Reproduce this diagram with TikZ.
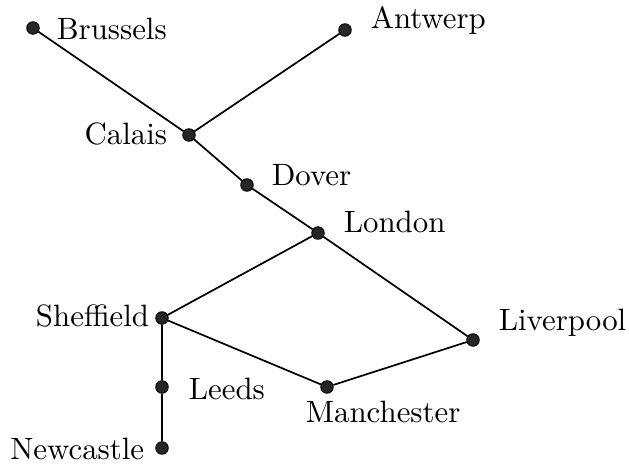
\documentclass[tikz,border=0pt]{standalone}
\usepackage{tikz}

\begin{document}
\begin{tikzpicture}[
    x = 0.35pt, y = -0.35pt,
    city/.style = {circle, fill = black!85, draw = black, line width = 0.3pt,
                   minimum size = 4.4pt, inner sep = 0pt},
    place/.style = {inner sep = 0pt, font = \fontsize{10.8}{13}\selectfont},
    every path/.style = {line width = 0.6pt}]

\useasboundingbox (0,0) rectangle (629,466);

\node[city] (bru) at (33,28) {};
\node[city] (ant) at (345,30) {};
\node[city] (cal) at (189,135) {};
\node[city] (dov) at (247,185) {};
\node[city] (lon) at (318,233) {};
\node[city] (she) at (162,318) {};
\node[city] (liv) at (473,340) {};
\node[city] (lee) at (162,387) {};
\node[city] (man) at (327,387) {};
\node[city] (new) at (162,448) {};

\draw (bru) -- (cal)
      (ant) -- (cal)
      (cal) -- (dov) -- (lon)
      (lon) -- (she)
      (lon) -- (liv)
      (she) -- (man) -- (liv)
      (she) -- (lee) -- (new);

\path (56,40) node[place, anchor = base west] (tbru) {Brussels}
      (370,29) node[place, anchor = base west] (tant) {Antwerp}
      (168,145) node[place, anchor = base east] (tcal) {Calais}
      (271,186) node[place, anchor = base west] (tdov) {Dover}
      (343,233) node[place, anchor = base west] (tlon) {London}
      (150,327) node[place, anchor = base east] (tshe) {Sheffield}
      (498,331) node[place, anchor = base west] (tliv) {Liverpool}
      (188,400) node[place, anchor = base west] (tlee) {Leeds}
      (305,422) node[place, anchor = base west] (tman) {Manchester}
      (145,460) node[place, anchor = base east] (tnew) {Newcastle};
\end{tikzpicture}
\end{document}
